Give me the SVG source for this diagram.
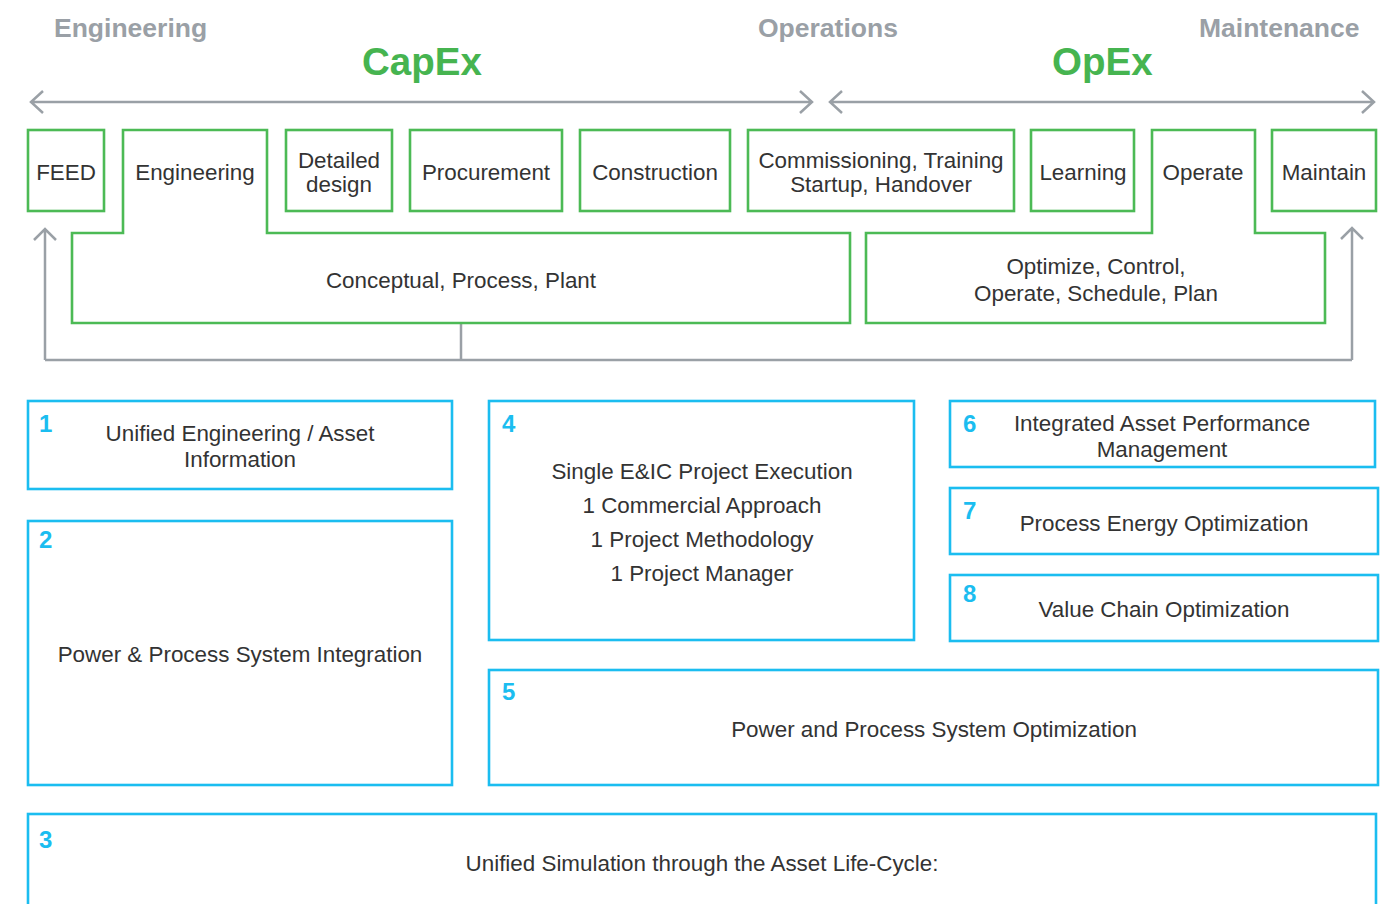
<svg xmlns="http://www.w3.org/2000/svg" width="1386" height="904" viewBox="0 0 1386 904">
<style>
.hdr{font-family:"Liberation Sans",Arial,sans-serif;font-weight:bold;font-size:26.5px;fill:#9aa0a6}
.big{font-family:"Liberation Sans",Arial,sans-serif;font-weight:bold;font-size:38.5px;fill:#46b450}
.g{fill:#fff;stroke:#4cba55;stroke-width:2.6}
.c{fill:#fff;stroke:#1bbdf0;stroke-width:2.6}
.t{font-family:"Liberation Sans",Arial,sans-serif;font-size:22.4px;fill:#333;text-anchor:middle}
.n{font-family:"Liberation Sans",Arial,sans-serif;font-weight:bold;font-size:24px;fill:#1bbdf0}
.ln{fill:none;stroke:#9aa0a6;stroke-width:2.5}
</style>
<g id="headers">
<text class="hdr" x="54" y="37">Engineering</text>
<text class="hdr" x="758" y="37">Operations</text>
<text class="hdr" x="1199" y="37">Maintenance</text>
<text class="big" x="362" y="75">CapEx</text>
<text class="big" x="1052" y="75">OpEx</text>
</g>
<g id="connectors">
<path class="ln" d="M31 102H812M43 91L31 102L43 113M800 91L812 102L800 113"/>
<path class="ln" d="M830 102H1374M842 91L830 102L842 113M1362 91L1374 102L1362 113"/>
<path class="ln" d="M461 323V360M45 360H1352M45 360V229M34 240L45 229L56 240M1352 360V228M1341 239L1352 228L1363 239"/>
</g>
<g id="feed"><rect class="g" x="28" y="130" width="76" height="81"/><text class="t" x="66" y="180">FEED</text></g>
<g id="engineering"><path class="g" d="M123 130H267V233H850V323H72V233H123Z"/><text class="t" x="195" y="180">Engineering</text><text class="t" x="461" y="288">Conceptual, Process, Plant</text></g>
<g id="detailed"><rect class="g" x="286" y="130" width="106" height="81"/><text class="t" x="339" y="168">Detailed</text><text class="t" x="339" y="192">design</text></g>
<g id="procurement"><rect class="g" x="410" y="130" width="152" height="81"/><text class="t" x="486" y="180">Procurement</text></g>
<g id="construction"><rect class="g" x="580" y="130" width="150" height="81"/><text class="t" x="655" y="180">Construction</text></g>
<g id="commissioning"><rect class="g" x="748" y="130" width="266" height="81"/><text class="t" x="881" y="168">Commissioning, Training</text><text class="t" x="881" y="192">Startup, Handover</text></g>
<g id="learning"><rect class="g" x="1031" y="130" width="103" height="81"/><text class="t" x="1083" y="180">Learning</text></g>
<g id="operate"><path class="g" d="M1152 130H1255V233H1325V323H866V233H1152Z"/><text class="t" x="1203" y="180">Operate</text><text class="t" x="1096" y="274">Optimize, Control,</text><text class="t" x="1096" y="301">Operate, Schedule, Plan</text></g>
<g id="maintain"><rect class="g" x="1272" y="130" width="104" height="81"/><text class="t" x="1324" y="180">Maintain</text></g>
<g id="box1"><rect class="c" x="28" y="401" width="424" height="88"/><text class="n" x="39" y="432">1</text><text class="t" x="240" y="441">Unified Engineering / Asset</text><text class="t" x="240" y="467">Information</text></g>
<g id="box2"><rect class="c" x="28" y="521" width="424" height="264"/><text class="n" x="39" y="548">2</text><text class="t" x="240" y="662">Power &amp; Process System Integration</text></g>
<g id="box4"><rect class="c" x="489" y="401" width="425" height="239"/><text class="n" x="502" y="432">4</text><text class="t" x="702" y="479">Single E&amp;IC Project Execution</text><text class="t" x="702" y="513">1 Commercial Approach</text><text class="t" x="702" y="547">1 Project Methodology</text><text class="t" x="702" y="581">1 Project Manager</text></g>
<g id="box6"><rect class="c" x="950" y="401" width="425" height="66"/><text class="n" x="963" y="432">6</text><text class="t" x="1162" y="431">Integrated Asset Performance</text><text class="t" x="1162" y="457">Management</text></g>
<g id="box7"><rect class="c" x="950" y="488" width="428" height="66"/><text class="n" x="963" y="519">7</text><text class="t" x="1164" y="531">Process Energy Optimization</text></g>
<g id="box8"><rect class="c" x="950" y="575" width="428" height="66"/><text class="n" x="963" y="602">8</text><text class="t" x="1164" y="617">Value Chain Optimization</text></g>
<g id="box5"><rect class="c" x="489" y="670" width="889" height="115"/><text class="n" x="502" y="700">5</text><text class="t" x="934" y="737">Power and Process System Optimization</text></g>
<g id="box3"><rect class="c" x="28" y="814" width="1348" height="110"/><text class="n" x="39" y="848">3</text><text class="t" x="702" y="871">Unified Simulation through the Asset Life-Cycle:</text></g>
</svg>
